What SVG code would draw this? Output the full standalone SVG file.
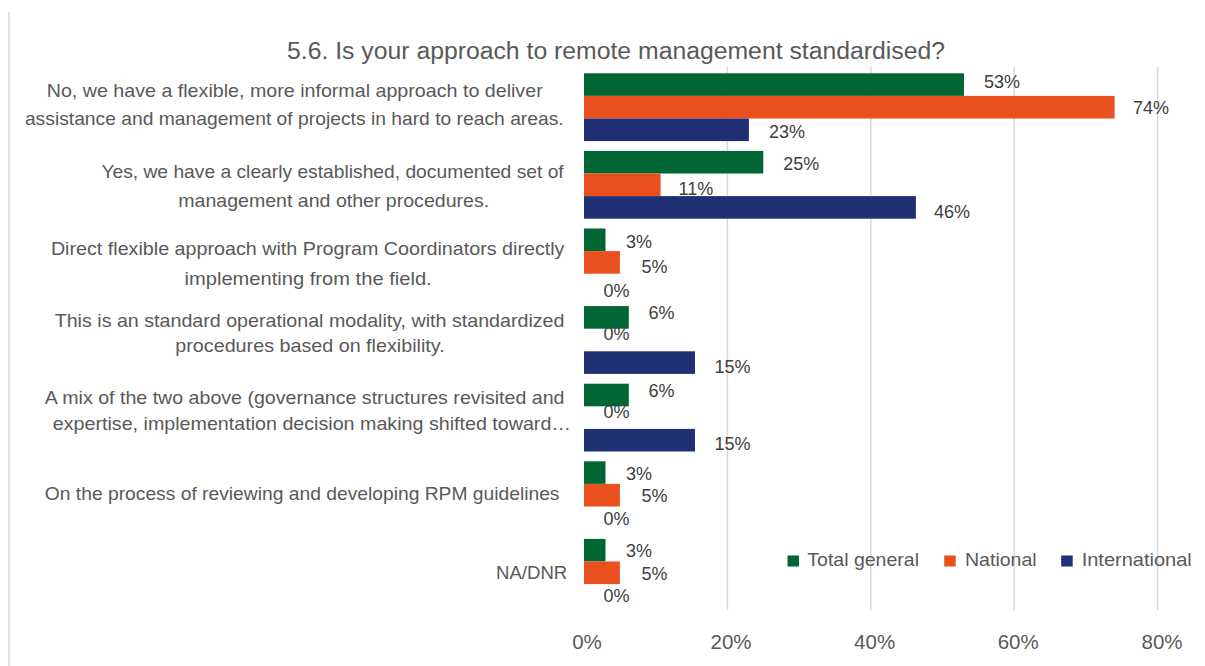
<svg xmlns="http://www.w3.org/2000/svg" width="1205" height="666" viewBox="0 0 1205 666">
<style>
text{font-family:"Liberation Sans",Arial,sans-serif;}
.cat{font-size:18.6px;fill:#595959;}
.val{font-size:18px;fill:#404040;}
.ax{font-size:20.5px;fill:#595959;text-anchor:middle;}
.leg{font-size:18.6px;fill:#595959;}
.title{font-size:23px;fill:#595959;}
.grid{stroke:#d9d9d9;stroke-width:1.5;}
.g{fill:#006633;}
.o{fill:#E9501E;}
.b{fill:#1F3074;}
</style>
<rect x="0" y="0" width="1205" height="666" fill="#ffffff"/>
<line x1="9" y1="12" x2="9" y2="666" stroke="#d9d9d9" stroke-width="1.5"/>
<text class="title" x="287" y="58.5" textLength="658" lengthAdjust="spacingAndGlyphs">5.6. Is your approach to remote management standardised?</text>
<g id="gridlines">
<line class="grid" x1="727.4" y1="67" x2="727.4" y2="610"/>
<line class="grid" x1="870.8" y1="67" x2="870.8" y2="610"/>
<line class="grid" x1="1014.2" y1="67" x2="1014.2" y2="610"/>
<line class="grid" x1="1157.6" y1="67" x2="1157.6" y2="610"/>
</g>
<g id="axis">
<text class="ax" x="587" y="649.3">0%</text>
<text class="ax" x="731" y="649.3">20%</text>
<text class="ax" x="874.6" y="649.3">40%</text>
<text class="ax" x="1018.2" y="649.3">60%</text>
<text class="ax" x="1162" y="649.3">80%</text>
</g>
<g id="cat1">
<text class="cat" x="46.7" y="96.7" textLength="496" lengthAdjust="spacingAndGlyphs">No, we have a flexible, more informal approach to deliver</text>
<text class="cat" x="24.9" y="125" textLength="538.8" lengthAdjust="spacingAndGlyphs">assistance and management of projects in hard to reach areas.</text>
<rect class="g" x="584" y="73.3" width="380" height="22.6"/>
<rect class="o" x="584" y="95.9" width="530.6" height="22.6"/>
<rect class="b" x="584" y="118.5" width="164.9" height="22.6"/>
<text class="val" x="984" y="88.3">53%</text>
<text class="val" x="1133" y="114.3">74%</text>
<text class="val" x="768.9" y="137.7">23%</text>
</g>
<g id="cat2">
<text class="cat" x="101.4" y="178.3" textLength="462.3" lengthAdjust="spacingAndGlyphs">Yes, we have a clearly established, documented set of</text>
<text class="cat" x="178.3" y="206.7" textLength="310.8" lengthAdjust="spacingAndGlyphs">management and other procedures.</text>
<rect class="g" x="584" y="150.9" width="179.3" height="22.6"/>
<rect class="o" x="584" y="173.5" width="76.6" height="22.6"/>
<rect class="b" x="584" y="196.1" width="331.9" height="22.6"/>
<text class="val" x="783.3" y="170">25%</text>
<text class="val" x="678.6" y="195">11%</text>
<text class="val" x="934" y="218.3">46%</text>
</g>
<g id="cat3">
<text class="cat" x="50.9" y="255" textLength="513.6" lengthAdjust="spacingAndGlyphs">Direct flexible approach with Program Coordinators directly</text>
<text class="cat" x="184.5" y="285" textLength="247.2" lengthAdjust="spacingAndGlyphs">implementing from the field.</text>
<rect class="g" x="584" y="228.5" width="21.5" height="22.6"/>
<rect class="o" x="584" y="251.1" width="35.9" height="22.6"/>
<text class="val" x="626" y="248.3">3%</text>
<text class="val" x="641.5" y="273.3">5%</text>
<text class="val" x="603.5" y="296.7">0%</text>
</g>
<g id="cat4">
<text class="cat" x="54.7" y="327.3" textLength="509.8" lengthAdjust="spacingAndGlyphs">This is an standard operational modality, with standardized</text>
<text class="cat" x="175.3" y="351.7" textLength="269.4" lengthAdjust="spacingAndGlyphs">procedures based on flexibility.</text>
<rect class="g" x="584" y="306.1" width="44.8" height="22.6"/>
<rect class="b" x="584" y="351.3" width="111" height="22.6"/>
<text class="val" x="648.5" y="319.3">6%</text>
<text class="val" x="603.5" y="340">0%</text>
<text class="val" x="714.5" y="373.3">15%</text>
</g>
<g id="cat5">
<text class="cat" x="44.8" y="404" textLength="519.7" lengthAdjust="spacingAndGlyphs">A mix of the two above (governance structures revisited and</text>
<text class="cat" x="52.8" y="430" textLength="518.2" lengthAdjust="spacingAndGlyphs">expertise, implementation decision making shifted toward…</text>
<rect class="g" x="584" y="383.7" width="44.8" height="22.6"/>
<rect class="b" x="584" y="428.9" width="111" height="22.6"/>
<text class="val" x="648.5" y="396.7">6%</text>
<text class="val" x="603.5" y="418.3">0%</text>
<text class="val" x="714.5" y="450">15%</text>
</g>
<g id="cat6">
<text class="cat" x="44.8" y="500" textLength="514.7" lengthAdjust="spacingAndGlyphs">On the process of reviewing and developing RPM guidelines</text>
<rect class="g" x="584" y="461.3" width="21.5" height="22.6"/>
<rect class="o" x="584" y="483.9" width="35.9" height="22.6"/>
<text class="val" x="626" y="480">3%</text>
<text class="val" x="641.5" y="501.7">5%</text>
<text class="val" x="603.5" y="525">0%</text>
</g>
<g id="cat7">
<text class="cat" x="496" y="579.3" textLength="71.3" lengthAdjust="spacingAndGlyphs">NA/DNR</text>
<rect class="g" x="584" y="538.9" width="21.5" height="22.6"/>
<rect class="o" x="584" y="561.5" width="35.9" height="22.6"/>
<text class="val" x="626" y="556.7">3%</text>
<text class="val" x="641.5" y="580">5%</text>
<text class="val" x="603.5" y="601.7">0%</text>
</g>
<g id="legend">
<rect class="g" x="787.5" y="555.5" width="11.5" height="11"/>
<text class="leg" x="807.3" y="566" textLength="111.7" lengthAdjust="spacingAndGlyphs">Total general</text>
<rect class="o" x="944.2" y="555.5" width="11.5" height="11"/>
<text class="leg" x="965" y="566" textLength="71.7" lengthAdjust="spacingAndGlyphs">National</text>
<rect class="b" x="1061.2" y="555.5" width="11.5" height="11"/>
<text class="leg" x="1081.7" y="566" textLength="110" lengthAdjust="spacingAndGlyphs">International</text>
</g>
</svg>
